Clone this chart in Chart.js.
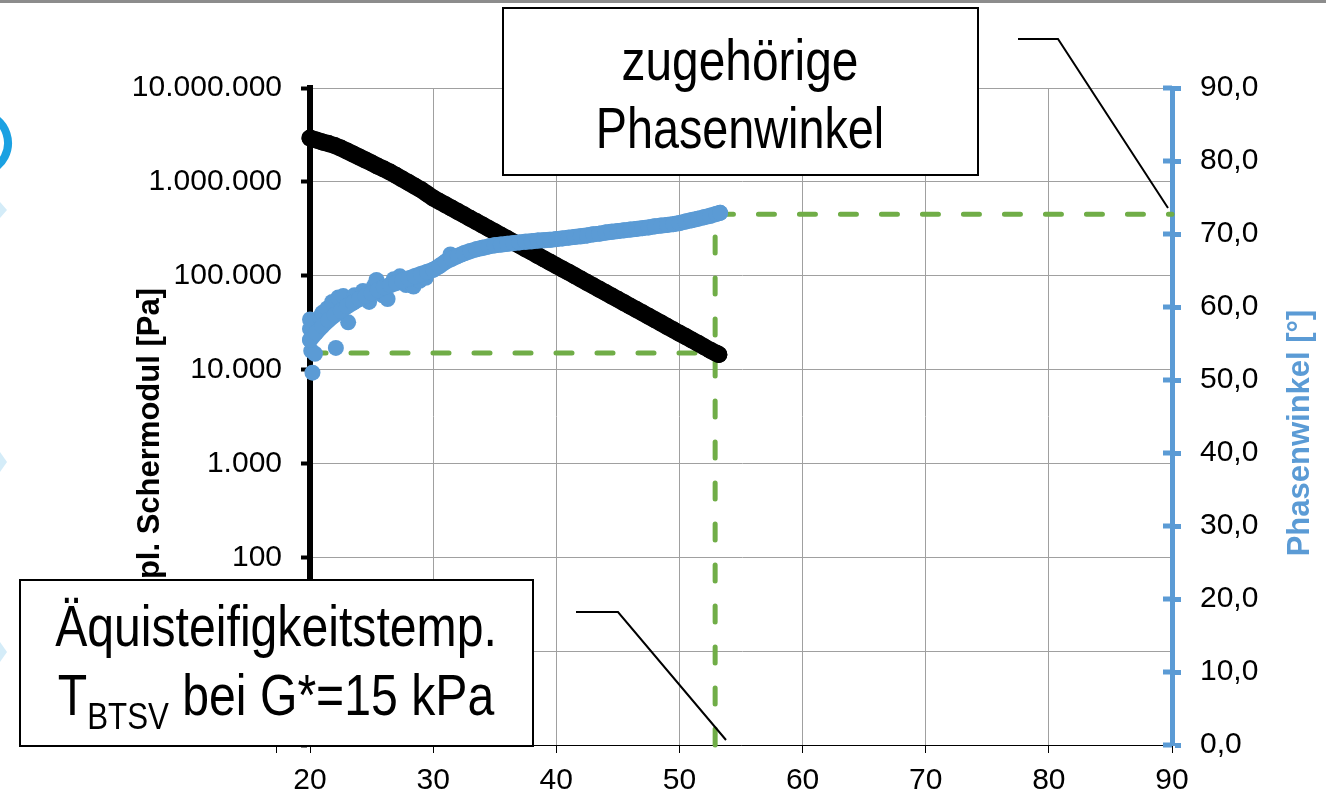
<!DOCTYPE html>
<html><head><meta charset="utf-8">
<script src="https://cdn.jsdelivr.net/npm/chart.js@4.4.1/dist/chart.umd.min.js"></script>
<style>html,body{margin:0;padding:0;background:#fff;overflow:hidden}canvas{display:block}</style>
</head><body>
<canvas id="c" width="1326" height="795"></canvas>
<script>
// ---------- DATA ----------
const gTemps = [20,20.5,21,21.5,22,22.5,23,23.5,24,24.5,25,25.5,26,26.5,27,27.5,28,28.5,29,29.5,
  30,30.5,31,31.5,32,32.5,33,33.5,34,34.5,35,35.5,36,36.5,37,37.5,38,38.5,39,39.5,
  40,40.5,41,41.5,42,42.5,43,43.5,44,44.5,45,45.5,46,46.5,47,47.5,48,48.5,49,49.5,
  50,50.5,51,51.5,52,52.5,53,53.2];
const gValues = [2930000,2790000,2660000,2560000,2440000,2290000,2130000,1980000,1840000,1710000,
  1590000,1470000,1370000,1270000,1170000,1070000,985000,903000,828000,746000,
  673000,619000,570000,525000,483000,445000,409000,377000,347000,319000,
  294000,270000,249000,229000,211000,194000,179000,164000,151000,139000,
  128000,118000,109000,100000,92000,84700,78000,71800,66100,60800,
  56000,51500,47400,43700,40200,37000,34000,31300,28800,26500,
  24400,22500,20700,19100,17500,16100,14900,14500];

const phaseTemps = [20,20.5,21,21.5,22,22.5,23,23.5,24,24.5,25,25.5,26,26.5,27,27.5,28,28.5,29,29.5,
  30,30.5,31,31.5,32,32.5,33,33.5,34,34.5,35,35.5,36,36.5,37,37.5,38,38.5,39,39.5,
  40,40.5,41,41.5,42,42.5,43,43.5,44,44.5,45,45.5,46,46.5,47,47.5,48,48.5,49,49.5,
  50,50.5,51,51.5,52,52.5,53,53.3];
const phaseValues = [55.5,56.5,57.4,58.2,58.9,59.5,60.1,60.6,61.1,61.5,61.9,62.3,62.7,63.0,63.3,63.6,63.9,64.2,64.5,64.8,
  65.1,65.6,66.2,66.6,67.0,67.35,67.65,67.9,68.1,68.3,68.45,68.55,68.65,68.75,68.85,68.95,69.0,69.1,69.15,69.2,
  69.3,69.4,69.5,69.6,69.7,69.8,69.95,70.05,70.2,70.3,70.4,70.5,70.6,70.7,70.8,70.9,71.05,71.15,71.25,71.35,
  71.5,71.7,71.9,72.1,72.3,72.5,72.75,72.9];
const phaseScatterTemps = [20,20,20.1,20.2,20.4,20.8,21,21.4,21.8,22.1,22.3,22.7,23.1,23.6,24.3,24.8,25.2,25.4,25.9,26.3,26.8,27.3,27.8,28.4,28.9,29.4,31.4,32.3];
const phaseScatterValues = [57.0,58.3,54.0,51.0,53.6,58.6,59.2,59.8,60.7,54.4,61.3,61.5,57.9,61.6,62.2,60.7,62.9,63.7,61.6,61.1,63.8,64.2,63.0,62.8,63.6,64.0,67.2,67.2];

const xTicks = [20,30,40,50,60,70,80,90];
const yTickValues = [1,10,100,1000,10000,100000,1000000,10000000];
const yTickLabels = ['','10','100','1.000','10.000','100.000','1.000.000','10.000.000'];
const y2Ticks = [0,10,20,30,40,50,60,70,80,90];
const y2TickLabels = ['0,0','10,0','20,0','30,0','40,0','50,0','60,0','70,0','80,0','90,0'];

const tBTSV = 52.9;       // equi-stiffness temperature
const gTarget = 15000;    // G* = 15 kPa
const phaseAtT = 72.7;    // phase angle at T_BTSV
const xAxisStart = 17.2;  // x axis stub start

// ---------- STYLE ----------
const FONT = "'Liberation Sans', Arial, sans-serif";
const BLUE = '#5b9bd5';
const GREEN = '#70ad47';
const GRID = '#a0a0a0';

function nText(ctx, text, x, y, size, align, sx) {
  ctx.save();
  ctx.font = size + 'px ' + FONT;
  ctx.translate(x, y);
  ctx.scale(sx, 1);
  ctx.textAlign = align || 'left';
  ctx.textBaseline = 'alphabetic';
  ctx.fillText(text, 0, 0);
  ctx.restore();
}
function nWidth(ctx, text, size, sx) {
  ctx.save(); ctx.font = size + 'px ' + FONT;
  const w = ctx.measureText(text).width * sx; ctx.restore(); return w;
}

const deco = {
  id: 'deco',
  afterDraw(chart) {
    const ctx = chart.ctx, ca = chart.chartArea;
    const xs = chart.scales.x, y2 = chart.scales.y2;
    ctx.save();
    // top bar
    ctx.fillStyle = '#8c8c8c'; ctx.fillRect(0, 0, 1326, 3);
    // slide remnants at far left
    ctx.strokeStyle = '#1ba1e2'; ctx.lineWidth = 8;
    ctx.beginPath(); ctx.arc(-22, 143, 30, -1.1, 1.1); ctx.stroke();
    ctx.fillStyle = '#d4ecf8';
    [[210, 8], [462, 10], [652, 10]].forEach(([cy, r]) => {
      ctx.beginPath(); ctx.moveTo(0, cy - r); ctx.lineTo(7, cy); ctx.lineTo(0, cy + r); ctx.closePath(); ctx.fill();
    });
    // x axis stub left of the value axis
    const sx = Math.round(xs.getPixelForValue(xAxisStart)) + 0.5;
    ctx.strokeStyle = '#000'; ctx.lineWidth = 1;
    ctx.beginPath();
    ctx.moveTo(sx, ca.bottom + 0.5); ctx.lineTo(ca.left, ca.bottom + 0.5);
    ctx.moveTo(sx, ca.bottom); ctx.lineTo(sx, ca.bottom + 8);
    ctx.stroke();
    // inner halves of right-axis ticks
    ctx.strokeStyle = BLUE; ctx.lineWidth = 5;
    y2Ticks.forEach(v => {
      const py = y2.getPixelForValue(v);
      ctx.beginPath(); ctx.moveTo(ca.right - 9, py); ctx.lineTo(ca.right, py); ctx.stroke();
    });
    // axis titles (both read bottom-to-top)
    ctx.font = 'bold 31px ' + FONT;
    ctx.textAlign = 'center'; ctx.textBaseline = 'middle';
    ctx.save(); ctx.translate(150, 468); ctx.rotate(-Math.PI / 2);
    ctx.fillStyle = '#000'; ctx.fillText('Kompl. Schermodul [Pa]', 0, 0); ctx.restore();
    ctx.save(); ctx.translate(1300, 433); ctx.rotate(-Math.PI / 2);
    ctx.fillStyle = BLUE; ctx.fillText('Phasenwinkel [°]', 0, 0); ctx.restore();

    // callout lines
    ctx.strokeStyle = '#000'; ctx.lineWidth = 2; ctx.lineJoin = 'miter';
    ctx.beginPath(); ctx.moveTo(1018, 39); ctx.lineTo(1058, 39); ctx.lineTo(1168, 208); ctx.stroke();
    ctx.beginPath(); ctx.moveTo(576, 612); ctx.lineTo(618, 612); ctx.lineTo(726, 740); ctx.stroke();

    // box 2 (top)
    ctx.fillStyle = '#fff'; ctx.fillRect(503, 8, 475, 167);
    ctx.strokeStyle = '#000'; ctx.lineWidth = 2; ctx.strokeRect(503, 8, 475, 167);
    ctx.fillStyle = '#000';
    nText(ctx, 'zugehörige', 740, 80, 57, 'center', 0.84);
    nText(ctx, 'Phasenwinkel', 740, 148, 57, 'center', 0.82);

    // box 1 (bottom left)
    ctx.fillStyle = '#fff'; ctx.fillRect(20, 580, 513, 166);
    ctx.strokeStyle = '#000'; ctx.lineWidth = 2; ctx.strokeRect(20, 580, 513, 166);
    ctx.fillStyle = '#000';
    const S1 = 0.845;
    nText(ctx, 'Äquisteifigkeitstemp.', 276, 646, 57, 'center', S1);
    const wT = nWidth(ctx, 'T', 57, S1), wS = nWidth(ctx, 'BTSV', 37, S1), wR = nWidth(ctx, ' bei G*=15 kPa', 57, S1);
    let x0 = 276 - (wT + wS + wR) / 2;
    nText(ctx, 'T', x0, 715, 57, 'left', S1); x0 += wT;
    nText(ctx, 'BTSV', x0, 729, 37, 'left', S1); x0 += wS;
    nText(ctx, ' bei G*=15 kPa', x0, 715, 57, 'left', S1);
    ctx.restore();
  }
};

const ctx = document.getElementById('c').getContext('2d');
new Chart(ctx, {
  type: 'scatter',
  data: {
    datasets: [
      { label: 'Phasenwinkel', data: phaseTemps.map((t, i) => ({ x: t, y: phaseValues[i] })),
        yAxisID: 'y2', showLine: true, backgroundColor: BLUE, borderColor: BLUE, borderWidth: 16,
        borderCapStyle: 'round', borderJoinStyle: 'round',
        pointRadius: 8, pointBorderWidth: 0, pointHoverRadius: 8, clip: false },
      { label: 'Phasenwinkel (Streuung)', data: phaseScatterTemps.map((t, i) => ({ x: t, y: phaseScatterValues[i] })),
        yAxisID: 'y2', backgroundColor: BLUE, borderColor: BLUE, borderWidth: 0,
        pointRadius: 8, pointHoverRadius: 8, clip: false },
      { label: 'Kompl. Schermodul', data: gTemps.map((t, i) => ({ x: t, y: gValues[i] })),
        yAxisID: 'y', showLine: true, backgroundColor: '#000', borderColor: '#000', borderWidth: 17,
        borderCapStyle: 'round', borderJoinStyle: 'round',
        pointRadius: 8.5, pointBorderWidth: 0, pointHoverRadius: 8.5, clip: false },
      { label: 'G* = 15 kPa', data: [{ x: xTicks[0], y: gTarget }, { x: tBTSV, y: gTarget }],
        yAxisID: 'y', showLine: true, borderColor: GREEN, borderWidth: 5, borderDash: [16, 25],
        borderCapStyle: 'round', pointRadius: 0, fill: false, clip: false },
      { label: 'T_BTSV', data: [{ x: tBTSV, y: y2Ticks[0] }, { x: tBTSV, y: phaseAtT }, { x: xTicks[xTicks.length - 1], y: phaseAtT }],
        yAxisID: 'y2', showLine: true, borderColor: GREEN, borderWidth: 5, borderDash: [16, 25],
        borderCapStyle: 'round', borderJoinStyle: 'miter', pointRadius: 0, fill: false, clip: false }
    ]
  },
  options: {
    responsive: false, animation: false, devicePixelRatio: 1, events: [],
    layout: { padding: { top: 88, left: 0, right: 0, bottom: 0 } },
    plugins: { legend: { display: false }, tooltip: { enabled: false } },
    scales: {
      x: {
        type: 'linear', position: 'bottom', min: xTicks[0], max: xTicks[xTicks.length - 1],
        afterBuildTicks: s => { s.ticks = xTicks.map(v => ({ value: v })); },
        afterFit: s => { s.height = 50; },
        grid: { color: GRID, lineWidth: 1, tickColor: '#000', tickWidth: 1, tickLength: 8 },
        border: { display: true, color: '#000', width: 1 },
        ticks: { font: { family: FONT, size: 30 }, color: '#000', padding: 10, maxRotation: 0, autoSkip: false,
          callback: v => String(v) }
      },
      y: {
        type: 'logarithmic', position: 'left', min: yTickValues[0], max: yTickValues[yTickValues.length - 1],
        afterBuildTicks: s => { s.ticks = yTickValues.map(v => ({ value: v })); },
        afterFit: s => { s.width = 310; },
        grid: { color: GRID, lineWidth: 1, tickColor: '#000', tickWidth: 4, tickLength: 9 },
        border: { display: true, color: '#000', width: 6 },
        ticks: { font: { family: FONT, size: 30 }, color: '#000', padding: 19, autoSkip: false,
          callback: v => { const i = yTickValues.indexOf(v); return i >= 0 ? yTickLabels[i] : ''; } }
      },
      y2: {
        type: 'linear', position: 'right', min: y2Ticks[0], max: y2Ticks[y2Ticks.length - 1],
        afterBuildTicks: s => { s.ticks = y2Ticks.map(v => ({ value: v })); },
        afterFit: s => { s.width = 154; },
        grid: { drawOnChartArea: false, tickColor: BLUE, tickWidth: 5, tickLength: 9 },
        border: { display: true, color: BLUE, width: 5 },
        ticks: { font: { family: FONT, size: 30 }, color: '#000', padding: 19, autoSkip: false,
          callback: v => { const i = y2Ticks.indexOf(v); return i >= 0 ? y2TickLabels[i] : ''; } }
      }
    }
  },
  plugins: [deco]
});
</script>
</body></html>
